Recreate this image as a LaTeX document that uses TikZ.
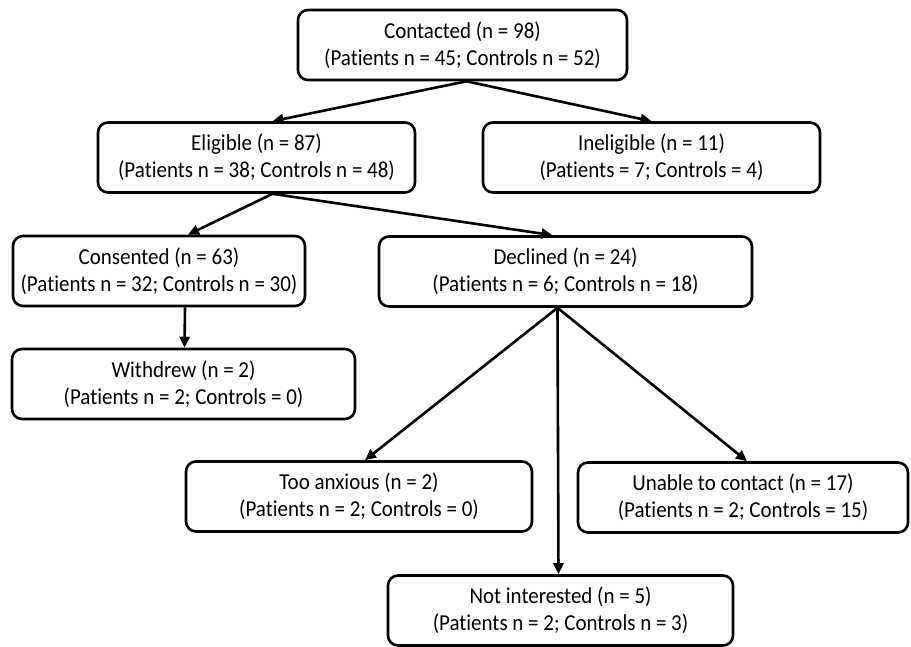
\documentclass[tikz,border=0pt]{standalone}
\usepackage{fontspec}
\setmainfont{Carlito}[Ligatures=NoCommon, FakeStretch=0.92]
\usetikzlibrary{arrows.meta,positioning}

\begin{document}
\begin{tikzpicture}[
  x=0.5pt, y=-0.5pt,
  every node/.style={font=\fontsize{11.4}{13.6}\selectfont},
  box/.style={rectangle, rounded corners=5pt, draw=black, line width=1.3pt,
              fill=white, minimum height=35pt, inner sep=2pt, align=center},
  flow/.style={-{Triangle[length=5.5pt,width=5pt]}, line width=1.3pt, black},
]
\useasboundingbox (0,0) rectangle (911,647);

%% ── boxes ─────────────────────────────────────────────────────────────
\node[box, minimum width=164.5pt] (contacted)  at (462.5,45)  {Contacted (n = 98)\\(Patients n = 45; Controls n = 52)};
\node[box, minimum width=158.5pt] (eligible)   at (256.5,157.5) {Eligible (n = 87)\\(Patients n = 38; Controls n = 48)};
\node[box, minimum width=168.5pt] (ineligible) at (651.5,157.5) {Ineligible (n = 11)\\(Patients = 7; Controls = 4)};
\node[box, minimum width=146pt]   (consented)  at (159,271)   {Consented (n = 63)\\(Patients n = 32; Controls n = 30)};
\node[box, minimum width=186.5pt] (declined)   at (565.5,271.5) {Declined (n = 24)\\(Patients n = 6; Controls n = 18)};
\node[box, minimum width=171.5pt] (withdrew)   at (183.5,384) {Withdrew (n = 2)\\(Patients n = 2; Controls = 0)};
\node[box, minimum width=173pt]   (anxious)    at (359,496.5) {Too anxious (n = 2)\\(Patients n = 2; Controls = 0)};
\node[box, minimum width=165pt]   (unable)     at (743,497.5) {Unable to contact (n = 17)\\(Patients n = 2; Controls = 15)};
\node[box, minimum width=172.5pt] (notint)     at (560.5,610.5) {Not interested (n = 5)\\(Patients n = 2; Controls n = 3)};

%% ── arrows ────────────────────────────────────────────────────────────
\draw[flow] ([xshift=2pt]contacted.south) -- ([xshift=8pt]eligible.north);
\draw[flow] ([xshift=2pt]contacted.south) -- (ineligible.north);
\draw[flow] ([xshift=8pt]eligible.south) -- ([xshift=14.5pt]consented.north);
\draw[flow] ([xshift=8pt]eligible.south) -- ([xshift=-6.5pt]declined.north);
\draw[flow] ([xshift=13pt]consented.south) -- ([xshift=0.5pt]withdrew.north);
\draw[flow] ([xshift=-4pt]declined.south) -- ([xshift=3pt]anxious.north);
\draw[flow] ([xshift=-4pt]declined.south) -- ([xshift=2pt]unable.north);
\draw[flow] ([xshift=-4pt]declined.south) -- ([xshift=-1pt]notint.north);

\end{tikzpicture}
\end{document}
